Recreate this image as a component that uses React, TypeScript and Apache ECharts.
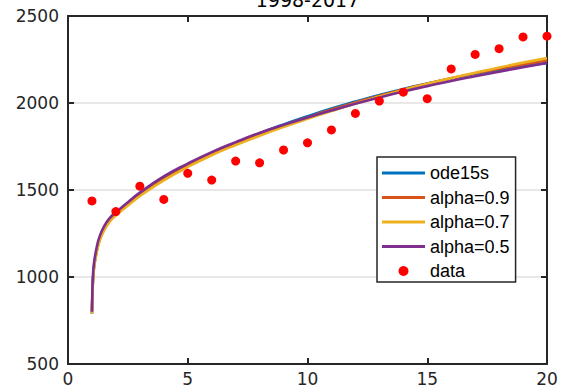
import React, { useEffect, useRef } from "react";
import * as echarts from "echarts";

const titleText = "1998-2017";
const curveX = [1, 1.02, 1.05, 1.1, 1.2, 1.3, 1.5, 1.75, 2, 2.5, 3, 4, 5, 6, 7, 8, 9, 10, 11, 12, 13, 14, 15, 16, 17, 18, 19, 20];
const ode15s = [790, 905, 1000, 1075, 1152, 1208, 1275, 1328, 1362, 1420, 1474, 1566, 1643, 1710, 1770, 1826, 1877, 1924, 1968, 2008, 2046, 2081, 2112, 2141, 2167, 2190, 2211, 2230];
const alpha09 = [790, 900, 995, 1070, 1148, 1204, 1271, 1324, 1358, 1416, 1470, 1561, 1638, 1705, 1765, 1820, 1870, 1917, 1962, 2003, 2042, 2078, 2111, 2142, 2171, 2197, 2221, 2244];
const alpha07 = [790, 895, 990, 1064, 1142, 1198, 1266, 1319, 1353, 1411, 1465, 1555, 1632, 1700, 1758, 1812, 1862, 1909, 1954, 1997, 2037, 2075, 2110, 2143, 2174, 2204, 2232, 2258];
const alpha05 = [800, 935, 1028, 1095, 1172, 1225, 1290, 1340, 1372, 1430, 1485, 1578, 1652, 1718, 1775, 1828, 1874, 1917, 1957, 1996, 2032, 2066, 2097, 2127, 2154, 2180, 2205, 2230];
const dataX = [1, 2, 3, 4, 5, 6, 7, 8, 9, 10, 11, 12, 13, 14, 15, 16, 17, 18, 19, 20];
const dataY = [1437, 1376, 1522, 1446, 1596, 1557, 1666, 1656, 1730, 1771, 1845, 1940, 2011, 2062, 2025, 2196, 2279, 2312, 2380, 2384];
const seriesNames = ["ode15s", "alpha=0.9", "alpha=0.7", "alpha=0.5", "data"];
const colors = ["#0072BD", "#D95319", "#EDB120", "#7E2F8E", "#FF0000"];

const pairs = (xs: number[], ys: number[]) => xs.map((x, i) => [x, ys[i]]);

export default function App() {
  const ref = useRef<HTMLDivElement>(null);
  useEffect(() => {
    if (!ref.current) return;
    const chart = echarts.init(ref.current, null, { renderer: "svg" });
    const axisColor = "#262626";
    const tickFont = { fontFamily: "DejaVu Sans", fontSize: 17, color: axisColor };
    const lineIcon = "path://M0,0h43v3h-43z";
    const curves = [ode15s, alpha09, alpha07, alpha05];
    chart.setOption({
      animation: false,
      backgroundColor: "#ffffff",
      grid: { left: 68, right: 16, top: 16, bottom: 28, containLabel: false, outerBoundsMode: "none" },
      graphic: [
        {
          type: "text",
          x: 307.5,
          y: 0,
          style: { text: titleText, fontFamily: "DejaVu Sans", fontSize: 19, fill: "#000", textAlign: "center", textVerticalAlign: "middle" },
        },
      ],
      xAxis: [
        {
          type: "value", min: 0, max: 20, interval: 5, position: "bottom",
          axisLine: { show: true, onZero: false, lineStyle: { color: axisColor, width: 2 } },
          axisTick: { show: true, inside: true, length: 6, lineStyle: { color: axisColor, width: 2 } },
          axisLabel: { ...tickFont, margin: 6, formatter: (v: number) => String(v) },
          splitLine: { show: false },
        },
        {
          type: "value", min: 0, max: 20, interval: 5, position: "top",
          axisLine: { show: true, onZero: false, lineStyle: { color: axisColor, width: 2 } },
          axisTick: { show: true, inside: true, length: 6, lineStyle: { color: axisColor, width: 2 } },
          axisLabel: { show: false },
          splitLine: { show: false },
        },
      ],
      yAxis: [
        {
          type: "value", min: 500, max: 2500, interval: 500, position: "left",
          axisLine: { show: true, onZero: false, lineStyle: { color: axisColor, width: 2 } },
          axisTick: { show: true, inside: true, length: 6, lineStyle: { color: axisColor, width: 2 } },
          axisLabel: { ...tickFont, margin: 9, formatter: (v: number) => String(v) },
          splitLine: { show: true, lineStyle: { color: "#e0e0e0", width: 1.5 } },
        },
        {
          type: "value", min: 500, max: 2500, interval: 500, position: "right",
          axisLine: { show: true, onZero: false, lineStyle: { color: axisColor, width: 2 } },
          axisTick: { show: true, inside: true, length: 6, lineStyle: { color: axisColor, width: 2 } },
          axisLabel: { show: false },
          splitLine: { show: false },
        },
      ],
      legend: {
        orient: "vertical",
        left: 377,
        top: 157,
        padding: [7, 6, 2, 5],
        itemGap: 6.5,
        itemWidth: 43,
        itemHeight: 10,
        borderColor: axisColor,
        borderWidth: 1.5,
        backgroundColor: "#ffffff",
        itemStyle: { borderWidth: 0, opacity: 1 },
        textStyle: { fontFamily: "Liberation Sans", fontSize: 18, color: "#000", lineHeight: 18 },
        data: seriesNames.map((n, i) => ({ name: n, icon: i < 4 ? lineIcon : "circle" })),
      },
      series: [
        ...curves.map((ys, i) => ({
          name: seriesNames[i],
          type: "line",
          data: pairs(curveX, ys),
          showSymbol: false,
          symbol: "none",
          smooth: 0.5,
          color: colors[i],
          lineStyle: { color: colors[i], width: 2.6 },
          itemStyle: { color: colors[i] },
          z: 2 + i,
        })),
        {
          name: seriesNames[4],
          type: "scatter",
          data: pairs(dataX, dataY),
          symbol: "circle",
          symbolSize: 9,
          itemStyle: { color: colors[4], opacity: 1 },
          z: 10,
        },
      ],
    });
    return () => chart.dispose();
  }, []);
  return <div ref={ref} style={{ position: "absolute", left: 0, top: 0, width: 563, height: 392 }} />;
}
